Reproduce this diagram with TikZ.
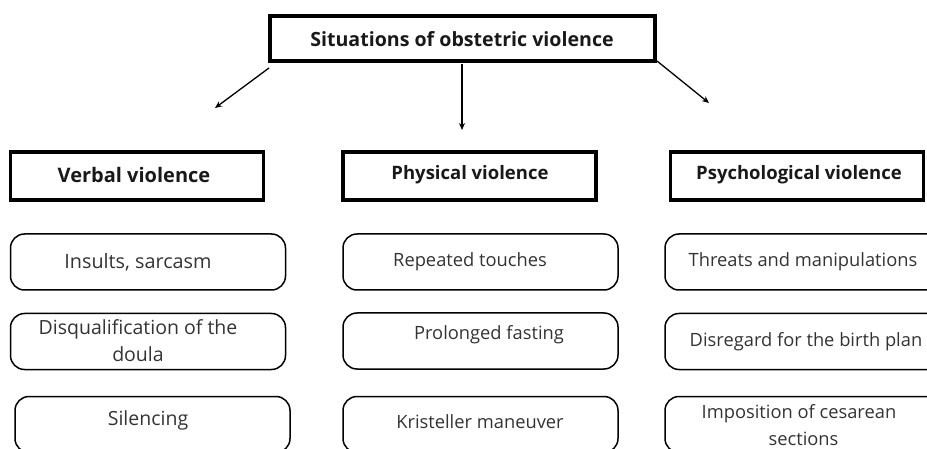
\documentclass[tikz,border=0pt]{standalone}
\usepackage{fontspec}
\setmainfont{Open Sans}
\usetikzlibrary{arrows.meta}
\begin{document}
\begin{tikzpicture}[x=1pt,y=1pt,
  titlebox/.style={draw=black,line width=3.5pt,minimum width=385pt,minimum height=45pt,inner sep=0pt},
  headbox/.style={draw=black,line width=3.5pt,minimum width=253pt,minimum height=48pt,inner sep=0pt},
  itembox/.style={draw=black,line width=1.5pt,rounded corners=14pt,minimum width=275pt,minimum height=56pt,inner sep=0pt},
  headtext/.style={font=\fontsize{18.5}{20}\selectfont\bfseries,text=black!90,inner sep=0pt},
  itemtext/.style={font=\fontsize{18.3}{27}\selectfont,text=black!80,inner sep=0pt,align=center},
  link/.style={line width=1.3pt,-{Stealth[length=7pt,width=6pt]}}]
\useasboundingbox (0,0) rectangle (927,-449);
% title
\node [titlebox] (title) at (462.5,-38.5) {};
\node [headtext,font=\fontsize{19.6}{20}\selectfont\bfseries] (titletext) at (462,-39) {Situations of obstetric violence};
% headers
\node [headbox] (verbal) at (137,-176) {};
\node [headtext,font=\fontsize{20}{20}\selectfont\bfseries] (verbaltext) at (134,-175) {Verbal violence};
\node [headbox] (physical) at (469.5,-176) {};
\node [headtext] (physicaltext) at (470,-175) {Physical violence};
\node [headbox] (psycho) at (797,-176) {};
\node [headtext] (psychotext) at (799,-175) {Psychological violence};
% verbal items
\node [itembox] (insults) at (148,-262) {};
\node [itemtext,font=\fontsize{19.8}{27}\selectfont] (insultstext) at (138,-262) {Insults, sarcasm};
\node [itembox] (doula) at (148,-341.5) {};
\node [itemtext,font=\fontsize{19.5}{27}\selectfont] (doulatext) at (138,-341) {Disqualification of the\\doula};
\node [itembox] (silence) at (152.5,-424.5) {};
\node [itemtext,font=\fontsize{19.5}{27}\selectfont] (silencetext) at (148,-420) {Silencing};
% physical items
\node [itembox] (touches) at (480.5,-262) {};
\node [itemtext] (touchestext) at (470,-262) {Repeated touches};
\node [itembox] (fasting) at (480.5,-341) {};
\node [itemtext] (fastingtext) at (489,-335) {Prolonged fasting};
\node [itembox] (kristeller) at (480.5,-424.5) {};
\node [itemtext] (kristellertext) at (480,-422) {Kristeller maneuver};
% psychological items
\node [itembox,minimum width=280pt] (threats) at (805,-262) {};
\node [itemtext] (threatstext) at (803,-262) {Threats and manipulations};
\node [itembox,minimum width=280pt] (birthplan) at (805,-341.5) {};
\node [itemtext] (birthplantext) at (806,-342) {Disregard for the birth plan};
\node [itembox,minimum width=280pt] (cesarean) at (805,-424.5) {};
\node [itemtext] (cesareantext) at (799,-425.5) {Imposition of cesarean\\\hspace*{9pt}sections};
% arrows
\coordinate (leftstart) at (269,-68);
\coordinate (leftend) at (215,-108);
\coordinate (midstart) at (462,-64);
\coordinate (midend) at (462,-130);
\coordinate (rightstart) at (657,-61);
\coordinate (rightend) at (709,-103);
\draw [link] (leftstart) -- (leftend);
\draw [link] (midstart) -- (midend);
\draw [link] (rightstart) -- (rightend);
\end{tikzpicture}
\end{document}
